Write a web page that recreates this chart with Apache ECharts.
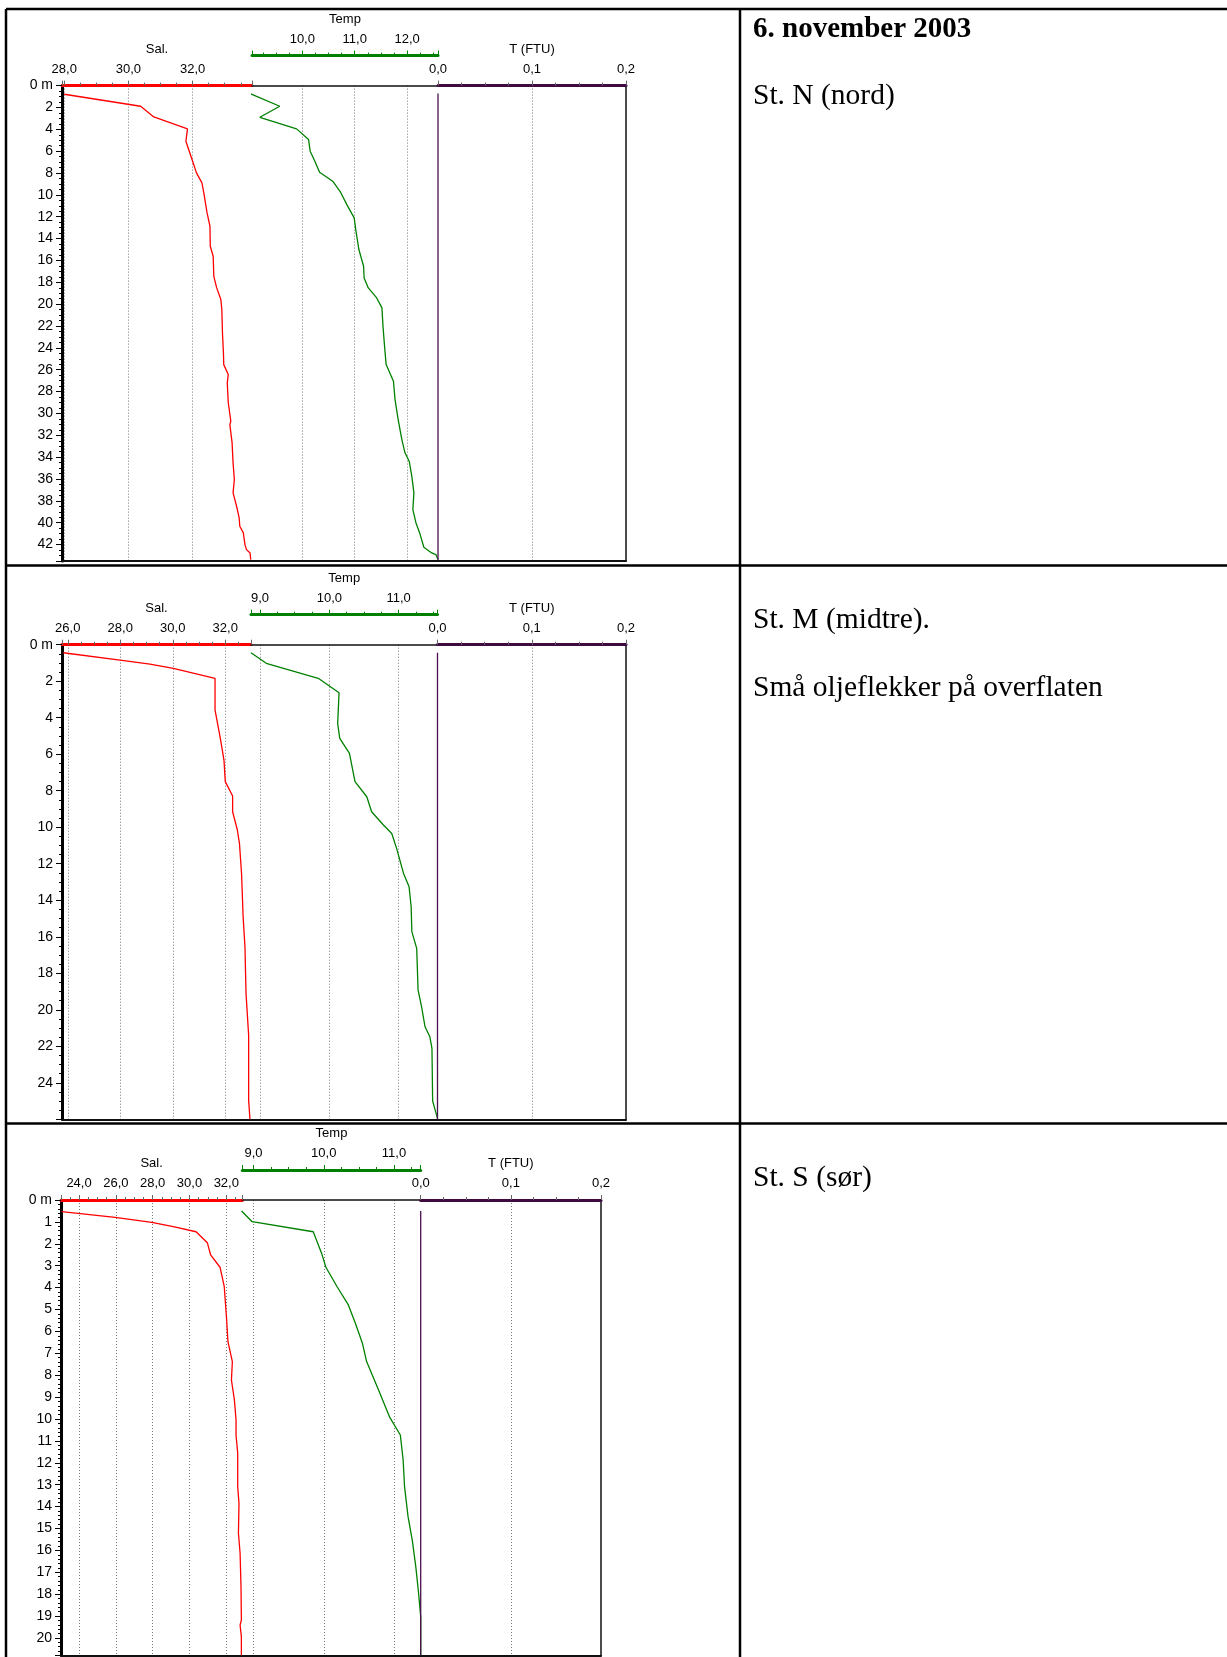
<!DOCTYPE html>
<html>
<head>
<meta charset="utf-8">
<script src="https://cdn.jsdelivr.net/npm/echarts@6.0.0/dist/echarts.min.js"></script>
<style>
html, body { margin: 0; padding: 0; background: #fff; }
#chart { width: 1227px; height: 1657px; }
</style>
</head>
<body>
<div id="chart"></div>
<script>
// St. N (nord)
const nSalDepth = [0.79, 1.89, 2.87, 3.96, 5.09, 6.92, 7.99, 8.9, 9.83, 11.65, 12.87, 14.7, 15.61, 17.45, 18.51, 19.58, 20.49, 22.63, 24.46, 25.53, 26.44, 27.2, 29.0, 30.71, 31.02, 32.69, 34.52, 36.05, 37.27, 38.49, 39.55, 40.32, 40.93, 42.0, 42.46, 42.76, 43.37];
const nSal = [28.0, 30.38, 30.79, 31.84, 31.79, 32.0, 32.12, 32.29, 32.35, 32.45, 32.54, 32.55, 32.64, 32.66, 32.75, 32.88, 32.91, 32.93, 32.96, 32.97, 33.11, 33.08, 33.11, 33.19, 33.16, 33.23, 33.26, 33.3, 33.26, 33.37, 33.45, 33.47, 33.58, 33.63, 33.68, 33.79, 33.81];
const nTempDepth = [0.73, 1.89, 2.9, 3.96, 4.94, 6.0, 6.92, 7.93, 8.75, 9.67, 10.89, 12.1, 13.17, 15.0, 16.53, 17.6, 18.51, 19.43, 20.34, 22.02, 23.85, 25.53, 27.05, 28.73, 30.56, 32.39, 33.6, 34.37, 35.74, 37.27, 38.8, 40.02, 40.93, 42.24, 42.76, 42.91, 43.37];
const nTemp = [9.0, 9.57, 9.19, 9.89, 10.12, 10.15, 10.24, 10.33, 10.58, 10.72, 10.85, 10.99, 11.02, 11.08, 11.17, 11.18, 11.26, 11.42, 11.52, 11.54, 11.57, 11.6, 11.74, 11.77, 11.83, 11.9, 11.96, 12.04, 12.09, 12.13, 12.11, 12.17, 12.24, 12.32, 12.47, 12.55, 12.59];
const nFtuDepth = [0.73, 43.4];
const nFtu = [0, 0];

// St. M (midtre)
const mSalDepth = [0.44, 0.84, 1.06, 1.3, 1.84, 3.58, 5.04, 6.32, 7.5, 8.29, 9.15, 10.15, 10.88, 12.53, 14.9, 16.55, 19.1, 21.4, 24.95, 26.0];
const mSal = [25.83, 27.99, 29.13, 30.02, 31.61, 31.61, 31.8, 31.95, 32.0, 32.28, 32.28, 32.46, 32.54, 32.62, 32.68, 32.75, 32.79, 32.89, 32.89, 32.94];
const mTempDepth = [0.44, 1.02, 1.84, 2.63, 4.31, 5.13, 5.95, 7.5, 8.33, 9.15, 9.88, 10.34, 11.16, 12.53, 13.26, 14.35, 15.72, 16.64, 18.92, 19.83, 20.93, 21.48, 22.11, 25.0, 25.95];
const mTemp = [8.87, 9.09, 9.84, 10.14, 10.12, 10.15, 10.29, 10.37, 10.54, 10.61, 10.78, 10.9, 10.97, 11.07, 11.15, 11.18, 11.19, 11.26, 11.28, 11.33, 11.38, 11.45, 11.48, 11.49, 11.56];
const mFtuDepth = [0.44, 26.0];
const mFtu = [0, 0];

// St. S (sør)
const sSalDepth = [0.53, 0.79, 1.02, 1.22, 1.45, 1.95, 2.51, 3.07, 3.96, 5.48, 6.47, 7.38, 8.22, 9.13, 10.05, 10.73, 11.57, 13.09, 13.85, 15.22, 16.13, 17.66, 19.18, 19.41, 19.94, 20.79];
const sSal = [23.06, 25.96, 27.95, 29.12, 30.36, 30.97, 31.15, 31.66, 31.89, 32.02, 32.09, 32.33, 32.28, 32.44, 32.53, 32.53, 32.62, 32.62, 32.69, 32.66, 32.75, 32.8, 32.82, 32.75, 32.82, 32.82];
const sTempDepth = [0.5, 0.99, 1.45, 2.44, 3.07, 3.96, 4.79, 5.63, 6.54, 7.38, 8.68, 9.93, 10.73, 11.87, 13.09, 14.46, 15.53, 16.74, 17.96, 19.03, 20.79];
const sTemp = [8.83, 8.98, 9.85, 9.97, 10.03, 10.19, 10.35, 10.45, 10.55, 10.61, 10.78, 10.94, 11.09, 11.13, 11.15, 11.2, 11.26, 11.31, 11.35, 11.38, 11.38];
const sFtuDepth = [0.5, 20.79];
const sFtu = [0, 0];

// axis ranges per station
const salRanges = [[27.93, 33.85], [25.78, 32.98], [23.02, 32.87]];
const tempRanges = [[9.04, 12.59], [8.87, 11.56], [8.84, 11.38]];
const ftuRange = [0, 0.2];
const depthMax = [43.5, 26.0, 20.8];
const depthStep = [2, 2, 1];

const stationText = [
  ['St. N (nord)'],
  ['St. M (midtre).', 'Små oljeflekker på overflaten'],
  ['St. S (sør)']
];

// layout of the three plots (px)
const panels = [
  { top: 85.6, height: 475.4, cuts: [62, 252, 438, 626], minor: 4, salSplit: 3, textY: [96] },
  { top: 644.7, height: 474.6, cuts: [62, 251, 437.5, 626], minor: 4, salSplit: 3, textY: [620, 688] },
  { top: 1200, height: 455.5, cuts: [61, 242.3, 420.7, 601], minor: 5, salSplit: 5, textY: [1178] }
];

const data = [
  [[nSalDepth, nSal], [nTempDepth, nTemp], [nFtuDepth, nFtu]],
  [[mSalDepth, mSal], [mTempDepth, mTemp], [mFtuDepth, mFtu]],
  [[sSalDepth, sSal], [sTempDepth, sTemp], [sFtuDepth, sFtu]]
];

const SANS = '"Liberation Sans", Arial, sans-serif';
const SERIF = '"Liberation Serif", "Times New Roman", serif';
const comma = v => v.toFixed(1).replace('.', ',');

const grid = [], xAxis = [], yAxis = [], series = [], graphic = [];

const lineColors = ['#ff0000', '#008000', '#4a0f4e'];
const axisColors = ['#ff0000', '#008000', '#3f0a40'];
const names = ['Sal.', 'Temp', 'T (FTU)'];

panels.forEach((p, pi) => {
  for (let k = 0; k < 3; k++) {
    const gi = pi * 3 + k;
    grid.push({
      left: p.cuts[k], top: p.top,
      width: p.cuts[k + 1] - p.cuts[k], height: p.height,
      outerBoundsMode: 'none', containLabel: false
    });
    const range = k === 0 ? salRanges[pi] : (k === 1 ? tempRanges[pi] : ftuRange);
    const step = k === 0 ? 2 : (k === 1 ? 1 : 0.1);
    const tickColor = k === 1 ? '#008000' : '#666';
    const ax = {
      gridIndex: gi, type: 'value', position: 'top',
      min: range[0], max: range[1],
      offset: k === 1 ? 30 : 0,
      name: names[k], nameLocation: 'middle', nameGap: 30,
      nameTextStyle: { fontFamily: SANS, fontSize: 13, color: '#000' },
      axisLine: { show: true, onZero: false, lineStyle: { color: axisColors[k], width: 3 } },
      axisTick: { show: true, length: 5, lineStyle: { color: tickColor } },
      minorTick: { show: true, splitNumber: 4, length: 3, lineStyle: { color: tickColor } },
      axisLabel: {
        formatter: comma, margin: 10, fontSize: 13, color: '#000', fontFamily: SANS,
        showMinLabel: k === 2, showMaxLabel: k === 2
      },
      splitLine: {
        show: true, showMinLine: false, showMaxLine: false,
        lineStyle: { type: [1, 2], color: '#777', width: 1 }
      }
    };
    if (k === 2) {
      ax.interval = 0.1;
    } else {
      ax.minInterval = step;
      ax.maxInterval = step;
      ax.splitNumber = k === 0 ? p.salSplit : 3;
    }
    xAxis.push(ax);

    // frame: bottom line for every grid
    xAxis.push({
      gridIndex: gi, type: 'value', position: 'bottom', min: range[0], max: range[1],
      axisLine: { show: true, onZero: false, lineStyle: { color: '#111', width: 2 } },
      axisTick: { show: false }, axisLabel: { show: false }, splitLine: { show: false }
    });
    // frame: top line under the lifted Temp axis
    if (k === 1) {
      xAxis.push({
        gridIndex: gi, type: 'value', position: 'top', offset: 0, min: range[0], max: range[1],
        axisLine: { show: true, onZero: false, lineStyle: { color: '#111', width: 1.5 } },
        axisTick: { show: false }, axisLabel: { show: false }, splitLine: { show: false }
      });
    }

    const ya = {
      gridIndex: gi, type: 'value', inverse: true,
      min: 0, max: depthMax[pi], interval: depthStep[pi],
      splitLine: { show: false }
    };
    if (k === 0) {
      Object.assign(ya, {
        position: 'left',
        axisLine: { show: true, onZero: false, lineStyle: { color: '#000', width: 3 } },
        axisTick: { show: true, length: 6, lineStyle: { color: '#000' } },
        minorTick: { show: true, splitNumber: p.minor, length: 3, lineStyle: { color: '#000' } },
        axisLabel: {
          formatter: v => (v === 0 ? '0 m' : String(v)),
          margin: 9, fontSize: 14, color: '#000', fontFamily: SANS, showMaxLabel: false
        }
      });
    } else if (k === 1) {
      Object.assign(ya, { show: false });
    } else {
      Object.assign(ya, {
        position: 'right',
        axisLine: { show: true, onZero: false, lineStyle: { color: '#111', width: 1.5 } },
        axisTick: { show: false }, axisLabel: { show: false }
      });
    }
    yAxis.push(ya);

    const [depths, vals] = data[pi][k];
    series.push({
      type: 'line',
      xAxisIndex: xAxis.indexOf(ax),
      yAxisIndex: yAxis.length - 1,
      data: vals.map((v, i) => [v, depths[i]]),
      symbol: 'none', clip: false, animation: false,
      lineStyle: { color: lineColors[k], width: 1.3 }
    });
  }

  stationText[pi].forEach((t, i) => {
    graphic.push({
      type: 'text',
      style: {
        x: 753, y: p.textY[i], text: t, fill: '#000',
        font: '29.5px ' + SERIF, verticalAlign: 'middle', align: 'left'
      }
    });
  });
});

// title
graphic.push({
  type: 'text',
  style: {
    x: 753, y: 30, text: '6. november 2003', fill: '#000',
    font: 'bold 29px ' + SERIF, verticalAlign: 'middle', align: 'left'
  }
});

// table borders
const tableLines = [
  [6, 9, 1227, 9], [6, 9, 6, 1657], [740, 9, 740, 1657],
  [6, 565.5, 1227, 565.5], [6, 1123.5, 1227, 1123.5]
];
tableLines.forEach(l => {
  graphic.push({
    type: 'line', silent: true,
    shape: { x1: l[0], y1: l[1], x2: l[2], y2: l[3] },
    style: { stroke: '#000', lineWidth: 2.5 }
  });
});

const chart = echarts.init(document.getElementById('chart'));
chart.setOption({
  animation: false,
  backgroundColor: '#fff',
  grid: grid,
  xAxis: xAxis,
  yAxis: yAxis,
  series: series,
  graphic: graphic
});
</script>
</body>
</html>
